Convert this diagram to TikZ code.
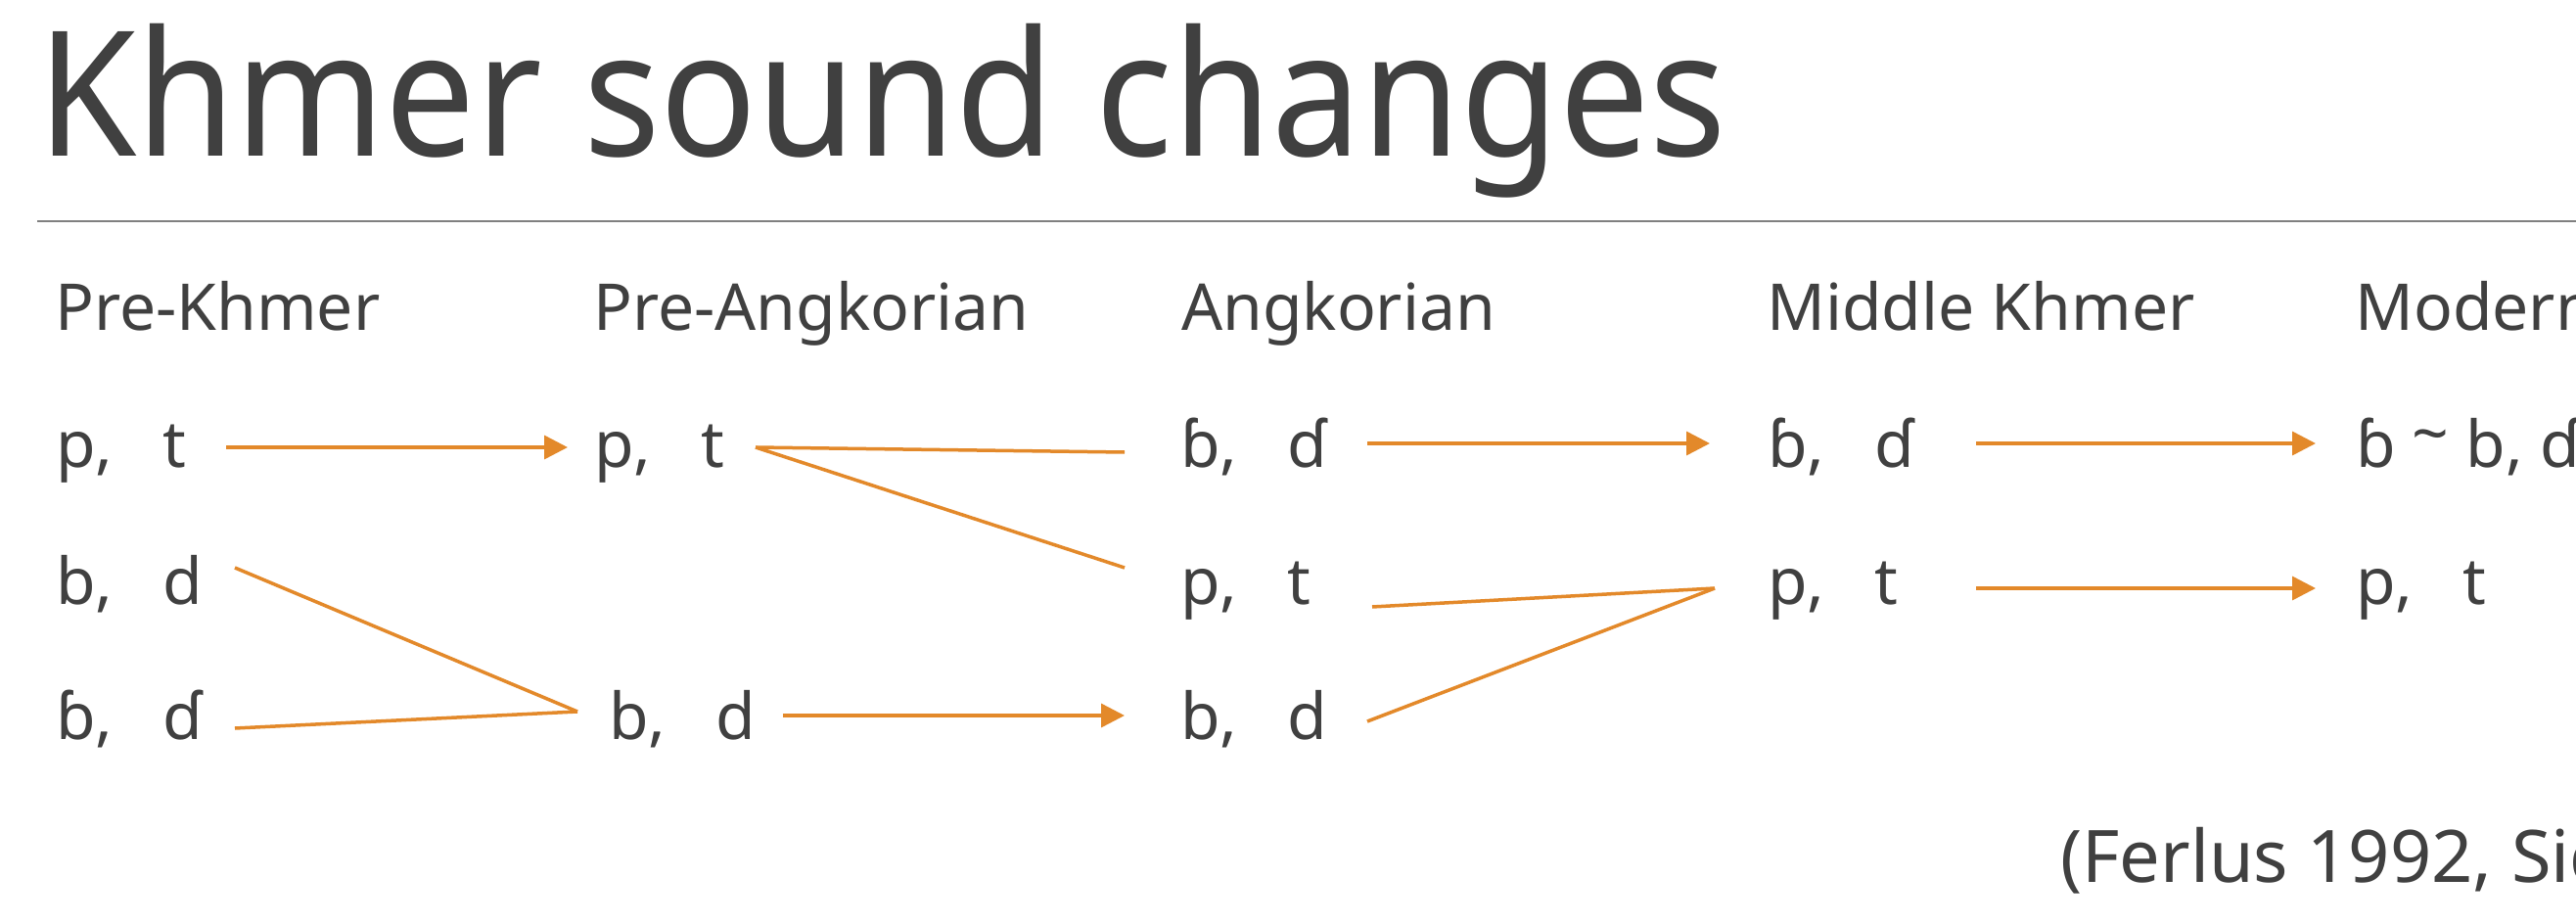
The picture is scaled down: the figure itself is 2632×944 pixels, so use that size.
\documentclass[tikz,border=0pt]{standalone}
\usepackage{fontspec}
\setmainfont{Noto Sans}
\newfontfamily\titlefont{Noto Sans}[FakeStretch=0.92]
\usetikzlibrary{arrows.meta}
\definecolor{txt}{RGB}{64,64,64}
\definecolor{org}{RGB}{227,137,42}
\definecolor{rulegray}{RGB}{128,128,128}
\newcommand\pr[2]{\makebox[109pt][l]{#1}#2}
\newcommand\tld{\raisebox{11pt}{\char"007E}}
\begin{document}
\begin{tikzpicture}[x=1pt,y=-1pt,
  lbl/.style={anchor=base west,inner sep=0pt,text=txt,font=\fontsize{66}{79}\selectfont},
  ttl/.style={anchor=base west,inner sep=0pt,text=txt,font=\titlefont\fontsize{178}{200}\selectfont},
  cite/.style={anchor=base west,inner sep=0pt,text=txt,font=\fontsize{74}{88}\selectfont},
  arr/.style={draw=org,line width=3.5pt,-{Triangle[length=24pt,width=24pt]}},
  ln/.style={draw=org,line width=3.5pt}]
\useasboundingbox (0,0) rectangle (2632,944);
\clip (0,0) rectangle (2632,944);
\fill[white] (0,0) rectangle (2632,944);
% title and rule
\node[ttl] (title) at (38,160) {Khmer sound changes};
\coordinate (ruleL) at (38,226);
\coordinate (ruleR) at (2640,226);
\draw[rulegray,line width=2pt] (ruleL) -- (ruleR);
% headings
\node[lbl] (h1) at (56,337) {Pre-Khmer};
\node[lbl] (h2) at (606,337) {Pre-Angkorian};
\node[lbl] (h3) at (1207,337) {Angkorian};
\node[lbl] (h4) at (1805,337) {Middle Khmer};
\node[lbl] (h5) at (2406,337) {Modern};
% column 1
\node[lbl] (a1) at (57,477) {\pr{p,}{t}};
\node[lbl] (a2) at (57,617) {\pr{b,}{d}};
\node[lbl] (a3) at (57,755) {\pr{ɓ,}{ɗ}};
% column 2
\node[lbl] (b1) at (607,477) {\pr{p,}{t}};
\node[lbl] (b3) at (622,755) {\pr{b,}{d}};
% column 3
\node[lbl] (c1) at (1206,477) {\pr{ɓ,}{ɗ}};
\node[lbl] (c2) at (1206,617) {\pr{p,}{t}};
\node[lbl] (c3) at (1206,755) {\pr{b,}{d}};
% column 4
\node[lbl] (d1) at (1806,477) {\pr{ɓ,}{ɗ}};
\node[lbl] (d2) at (1806,617) {\pr{p,}{t}};
% column 5
\node[lbl] (e1) at (2407,477) {ɓ \tld{} b, ɗ};
\node[lbl] (e2) at (2407,617) {\pr{p,}{t}};
% citation
\node[cite] (cit) at (2105,901) {(Ferlus 1992, Sidwell};
% connector end points
\coordinate (a1o) at (231,457);
\coordinate (b1i) at (580,457);
\coordinate (a2o) at (240,580);
\coordinate (a3o) at (240,744);
\coordinate (b3i) at (590,727);
\coordinate (b1o) at (772,457);
\coordinate (c1i) at (1149,462);
\coordinate (c2i) at (1149,580);
\coordinate (b3o) at (800,731);
\coordinate (c3i) at (1149,731);
\coordinate (c1o) at (1397,453);
\coordinate (d1i) at (1747,453);
\coordinate (c2o) at (1402,620);
\coordinate (c3o) at (1397,737);
\coordinate (d2i) at (1752,601);
\coordinate (d1o) at (2019,453);
\coordinate (e1i) at (2366,453);
\coordinate (d2o) at (2019,601);
\coordinate (e2i) at (2366,601);
% connectors
\draw[arr] (a1o) -- (b1i);
\draw[ln] (a2o) -- (b3i);
\draw[ln] (a3o) -- (b3i);
\draw[ln] (b1o) -- (c1i);
\draw[ln] (b1o) -- (c2i);
\draw[arr] (b3o) -- (c3i);
\draw[arr] (c1o) -- (d1i);
\draw[ln] (c2o) -- (d2i);
\draw[ln] (c3o) -- (d2i);
\draw[arr] (d1o) -- (e1i);
\draw[arr] (d2o) -- (e2i);
\end{tikzpicture}
\end{document}
